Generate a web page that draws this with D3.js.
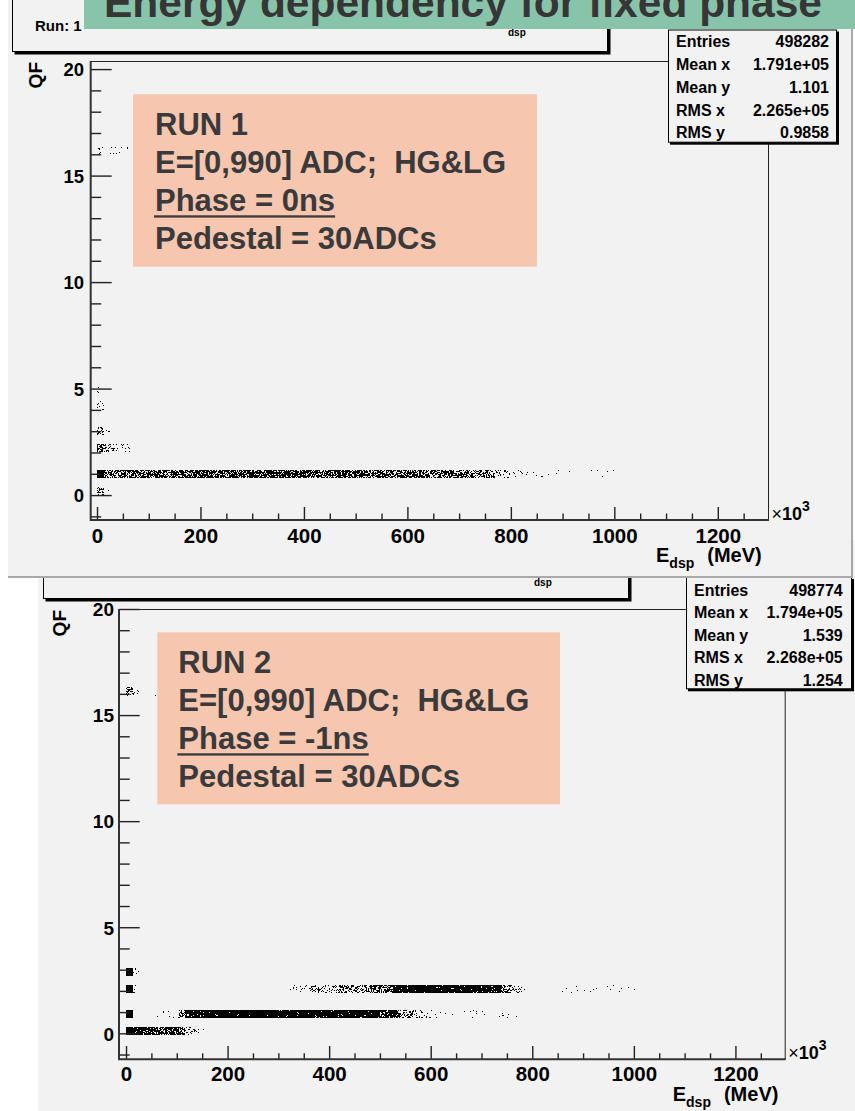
<!DOCTYPE html>
<html>
<head>
<meta charset="utf-8">
<script src="https://cdn.jsdelivr.net/npm/d3@7"></script>
<style>
  html, body { margin: 0; padding: 0; background: #ffffff; }
  svg { display: block; }
  text { font-family: "Liberation Sans", Arial, Helvetica, sans-serif; font-weight: bold; }
</style>
</head>
<body>
<svg id="chart" width="855" height="1111"></svg>
<script>
// ---------------- values ----------------
const pageTitle = "Energy dependency for fixed phase";

const energyTicks = [0, 200, 400, 600, 800, 1000, 1200];   // x10^3 MeV
const energyMinorStep = 50;
const qfTicks = [0, 5, 10, 15, 20];
const qfMinorStep = 1;

const energyBin = 13;   // histogram bin width along E_dsp (x10^3 MeV)
const qfBin = 0.4;      // histogram bin width along QF

// Scatter occupancy, one array per QF row: [E low, E high, fraction of the cell that is inked]
const run1QF02  = [[0, 13, 0.28], [13, 26, 0.07]];
const run1QF10  = [[0, 13, 1], [13, 26, 0.55], [26, 120, 0.7], [120, 320, 0.74], [320, 520, 0.74],
                   [520, 660, 0.7], [660, 730, 0.6], [730, 770, 0.45], [770, 800, 0.2],
                   [800, 830, 0.06], [830, 1013, 0.02]];
const run1QF22  = [[0, 13, 0.6], [13, 39, 0.3], [39, 65, 0.08]];
const run1QF30  = [[0, 13, 0.4], [13, 26, 0.09]];
const run1QF42  = [[0, 13, 0.15]];
const run1QF50  = [[0, 13, 0.03]];
const run1QF162 = [[0, 13, 0.15], [13, 65, 0.025]];
const run1Rows = [[0.2, run1QF02], [1.0, run1QF10], [2.2, run1QF22], [3.0, run1QF30],
                  [4.2, run1QF42], [5.0, run1QF50], [16.2, run1QF162]];

const run2QF01  = [[0, 13, 1], [13, 52, 0.85], [52, 104, 0.78], [104, 117, 0.6], [117, 143, 0.22], [143, 195, 0.015]];
const run2QF09  = [[0, 13, 1], [52, 104, 0.04], [104, 117, 0.45], [117, 156, 0.9], [156, 500, 0.96],
                   [500, 535, 0.8], [535, 565, 0.5], [565, 600, 0.17], [600, 772, 0.025]];
const run2QF21  = [[0, 13, 1], [13, 26, 0.04], [320, 360, 0.12], [360, 420, 0.25], [420, 480, 0.42],
                   [480, 525, 0.7], [525, 740, 0.96], [740, 760, 0.55], [760, 780, 0.16], [780, 1005, 0.015]];
const run2QF29  = [[0, 13, 1], [13, 26, 0.1]];
const run2QF161 = [[0, 13, 0.4], [13, 26, 0.04], [26, 60, 0.02]];
const run2Rows = [[0.1, run2QF01], [0.9, run2QF09], [2.1, run2QF21], [2.9, run2QF29], [16.1, run2QF161]];

const run1Stats = [["Entries", "498282"], ["Mean x", "1.791e+05"], ["Mean y", "1.101"],
                   ["RMS x", "2.265e+05"], ["RMS y", "0.9858"]];
const run2Stats = [["Entries", "498774"], ["Mean x", "1.794e+05"], ["Mean y", "1.539"],
                   ["RMS x", "2.268e+05"], ["RMS y", "1.254"]];

const run1Notes = ["RUN 1", "E=[0,990] ADC;  HG&LG", "Phase = 0ns", "Pedestal = 30ADCs"];
const run2Notes = ["RUN 2", "E=[0,990] ADC;  HG&LG", "Phase = -1ns", "Pedestal = 30ADCs"];

// ---------------- layout ----------------
const run1Layout = {
  bg: [8, 0, 853, 578], edge: true,
  title: [12, -12, 608, 52], runText: "Run: 1", runBase: 31, subAt: [508, 36],
  left: 90.7, right: 769, top: 61, bottom: 520,
  xDomain: [-12.2, 1299], yDomain: [-1.17, 20.38],
  yMajor: 21, yMinor: 10.5, xMajor: 13, xMinor: 6.5,
  yPad: 6.7, yFont: 18.5, xPad: 8, xFont: 20.5,
  qfAt: [42, 62],
  stats: [668, 29.5, 837, 142.7], statLabelX: 676, statValueX: 829, statRow0: 41.7, statStep: 22.75,
  notes: [133, 94.3, 537, 266.7], noteX: 155
};
const run2Layout = {
  bg: [38, 540, 855, 1111], edge: false,
  title: [43, 530, 629, 599], runText: null, runBase: 0, subAt: [534, 586],
  left: 119, right: 785.7, top: 609, bottom: 1059.3,
  xDomain: [-13.8, 1299], yDomain: [-1.225, 20],
  yMajor: 20.7, yMinor: 10.7, xMajor: 13.3, xMinor: 6,
  yPad: 5, yFont: 19, xPad: 7.4, xFont: 20.5,
  qfAt: [66, 610],
  stats: [686, 577, 852, 689.3], statLabelX: 694, statValueX: 842.7, statRow0: 590, statStep: 22.5,
  notes: [157.3, 632.3, 560, 804.3], noteX: 178.3
};

const svg = d3.select("#chart");

// deterministic dither threshold for the scatter texture
function dither(ix, iy, s) {
  let h = Math.imul(ix + 1013 * s, 0x27d4eb2d) ^ Math.imul(iy + 7919 * s, 0x165667b1);
  h = Math.imul(h ^ (h >>> 15), 0x85ebca6b);
  h = Math.imul(h ^ (h >>> 13), 0xc2b2ae35);
  h ^= h >>> 16;
  return (h >>> 0) / 4294967296;
}

function shadowBox(g, b, fill, off) {
  g.append("rect").attr("x", b[0] + off).attr("y", b[1] + off)
    .attr("width", b[2] - b[0]).attr("height", b[3] - b[1]).attr("fill", "#000");
  g.append("rect").attr("x", b[0] + 0.5).attr("y", b[1] + 0.5)
    .attr("width", b[2] - b[0] - 1).attr("height", b[3] - b[1] - 1)
    .attr("fill", fill).attr("stroke", "#000").attr("stroke-width", 1);
}

function drawPanel(L, rows, stats, notes, seed) {
  const g = svg.append("g");
  const x = d3.scaleLinear().domain(L.xDomain).range([L.left, L.right]);
  const y = d3.scaleLinear().domain(L.yDomain).range([L.bottom, L.top]);

  // canvas backdrop
  g.append("rect").attr("x", L.bg[0]).attr("y", L.bg[1])
    .attr("width", L.bg[2] - L.bg[0]).attr("height", L.bg[3] - L.bg[1]).attr("fill", "#f2f2f2");
  if (L.edge) {
    g.append("path").attr("d", `M${L.bg[0]},${L.bg[3] - 1}H${L.bg[2] - 1}V${L.bg[1]}`)
      .attr("fill", "none").attr("stroke", "#a9a9a9").attr("stroke-width", 2);
  }

  // histogram title box (its text mostly sits under the overlapping elements)
  shadowBox(g, L.title, "#f2f2f2", 2.5);
  if (L.runText) {
    g.append("text").attr("x", L.title[0] + 23).attr("y", L.runBase)
      .attr("font-size", 15).attr("fill", "#000").text(L.runText);
  }
  g.append("text").attr("x", L.subAt[0]).attr("y", L.subAt[1])
    .attr("font-size", 10).attr("fill", "#000").text("dsp");

  // frame
  g.append("path").attr("d", `M${L.left},${L.top + 0.5}H${L.right - 0.5}V${L.bottom}`)
    .attr("fill", "none").attr("stroke", "#222").attr("stroke-width", 1);

  // scatter cells
  const cells = rows.flatMap(([qc, segs]) => segs.map(([e0, e1, f]) => ({ qc, e0, e1, f })));
  function cellPath(c) {
    const yTop = Math.round(y(c.qc + qfBin / 2)), yBot = Math.round(y(c.qc - qfBin / 2));
    const xa = Math.round(x(c.e0)), xb = Math.round(x(c.e1));
    let d = "";
    for (let py = yTop; py < yBot; py++) {
      let start = -1;
      for (let px = xa; px <= xb; px++) {
        const on = px < xb && dither(px, py, seed) < c.f;
        if (on && start < 0) start = px;
        if (!on && start >= 0) { d += `M${start},${py}h${px - start}v1h${start - px}z`; start = -1; }
      }
    }
    return d;
  }
  g.append("g").selectAll("path").data(cells).join("path")
    .attr("d", cellPath).attr("fill", "#000").attr("shape-rendering", "crispEdges");

  // axes
  const fontFam = '"Liberation Sans", Arial, Helvetica, sans-serif';
  const inY = v => v >= L.yDomain[0] && v <= L.yDomain[1];
  const qfMinor = d3.range(Math.ceil(L.yDomain[0]), Math.floor(L.yDomain[1]) + 1, qfMinorStep)
    .filter(v => !qfTicks.includes(v));
  const eMinor = d3.range(0, L.xDomain[1], energyMinorStep).filter(v => !energyTicks.includes(v));

  function styleAxis(sel, size) {
    sel.select(".domain").remove();
    sel.attr("font-family", fontFam).attr("font-size", size).attr("font-weight", "bold").attr("color", "#000");
    sel.selectAll(".tick line").attr("stroke", "#222").attr("stroke-width", 1.4);
  }
  const gyMin = g.append("g").attr("transform", `translate(${L.left},0)`)
    .call(d3.axisLeft(y).tickValues(qfMinor).tickSize(-L.yMinor).tickFormat(""));
  styleAxis(gyMin, L.yFont);
  const gy = g.append("g").attr("transform", `translate(${L.left},0)`)
    .call(d3.axisLeft(y).tickValues(qfTicks.filter(inY)).tickSize(-L.yMajor).tickPadding(L.yPad).tickFormat(d3.format("d")));
  styleAxis(gy, L.yFont);
  gy.selectAll(".tick text").attr("dy", "0.36em");

  const gxMin = g.append("g").attr("transform", `translate(0,${L.bottom})`)
    .call(d3.axisBottom(x).tickValues(eMinor).tickSize(-L.xMinor).tickFormat(""));
  styleAxis(gxMin, L.xFont);
  const gx = g.append("g").attr("transform", `translate(0,${L.bottom})`)
    .call(d3.axisBottom(x).tickValues(energyTicks).tickSize(-L.xMajor).tickPadding(L.xPad).tickFormat(d3.format("d")));
  styleAxis(gx, L.xFont);

  // axis lines
  g.append("path").attr("d", `M${L.left},${L.top}V${L.bottom}H${L.right}`)
    .attr("fill", "none").attr("stroke", "#333").attr("stroke-width", 2);

  // axis titles
  const xt = g.append("text").attr("x", L.right - 7.3).attr("y", L.bottom + 41.5)
    .attr("text-anchor", "end").attr("font-size", 20).attr("fill", "#000");
  xt.append("tspan").text("E");
  xt.append("tspan").attr("dy", 6).attr("font-size", 14).text("dsp");
  xt.append("tspan").attr("dy", -6).attr("dx", 13).text("(MeV)");

  const xm = g.append("text").attr("x", L.right + 2.5).attr("y", L.bottom - 0.5)
    .attr("font-size", 18).attr("fill", "#000");
  xm.append("tspan").attr("font-weight", "normal").text("\u00d7");
  xm.append("tspan").text("10");
  xm.append("tspan").attr("dy", -9).attr("font-size", 14).text("3");

  g.append("text").attr("transform", `translate(${L.qfAt[0]},${L.qfAt[1]}) rotate(-90)`)
    .attr("text-anchor", "end").attr("font-size", 19).attr("fill", "#000").text("QF");

  // statistics box
  shadowBox(g, L.stats, "#f2f2f2", 2);
  const sg = g.append("g").attr("font-size", 16).attr("fill", "#000");
  stats.forEach(([k, v], i) => {
    const yy = L.statRow0 + i * L.statStep + 5.7;
    sg.append("text").attr("x", L.statLabelX).attr("y", yy).text(k);
    sg.append("text").attr("x", L.statValueX).attr("y", yy).attr("text-anchor", "end").text(v);
  });

  // run description box
  const nb = L.notes;
  g.append("rect").attr("x", nb[0]).attr("y", nb[1]).attr("width", nb[2] - nb[0]).attr("height", nb[3] - nb[1])
    .attr("fill", "#f6c6ae");
  notes.forEach((line, i) => {
    const yy = nb[1] + 40.5 + i * 38;
    const t = g.append("text").attr("x", L.noteX).attr("y", yy).attr("font-size", 31)
      .attr("fill", "#3a3a3c").style("white-space", "pre").text(line);
    if (i === 2) {
      const w = t.node().getComputedTextLength();
      g.append("rect").attr("x", L.noteX - 1).attr("y", yy + 4.5).attr("width", w + 1).attr("height", 2.3)
        .attr("fill", "#3a3a3c");
    }
  });
}

drawPanel(run2Layout, run2Rows, run2Stats, run2Notes, 2);
drawPanel(run1Layout, run1Rows, run1Stats, run1Notes, 1);

// slide banner
svg.append("rect").attr("x", 84).attr("y", 0).attr("width", 771).attr("height", 29).attr("fill", "#88c4a9");
svg.append("text").attr("x", 104).attr("y", 16.5).attr("font-size", 42.5).attr("fill", "#363636").text(pageTitle);
</script>
</body>
</html>
